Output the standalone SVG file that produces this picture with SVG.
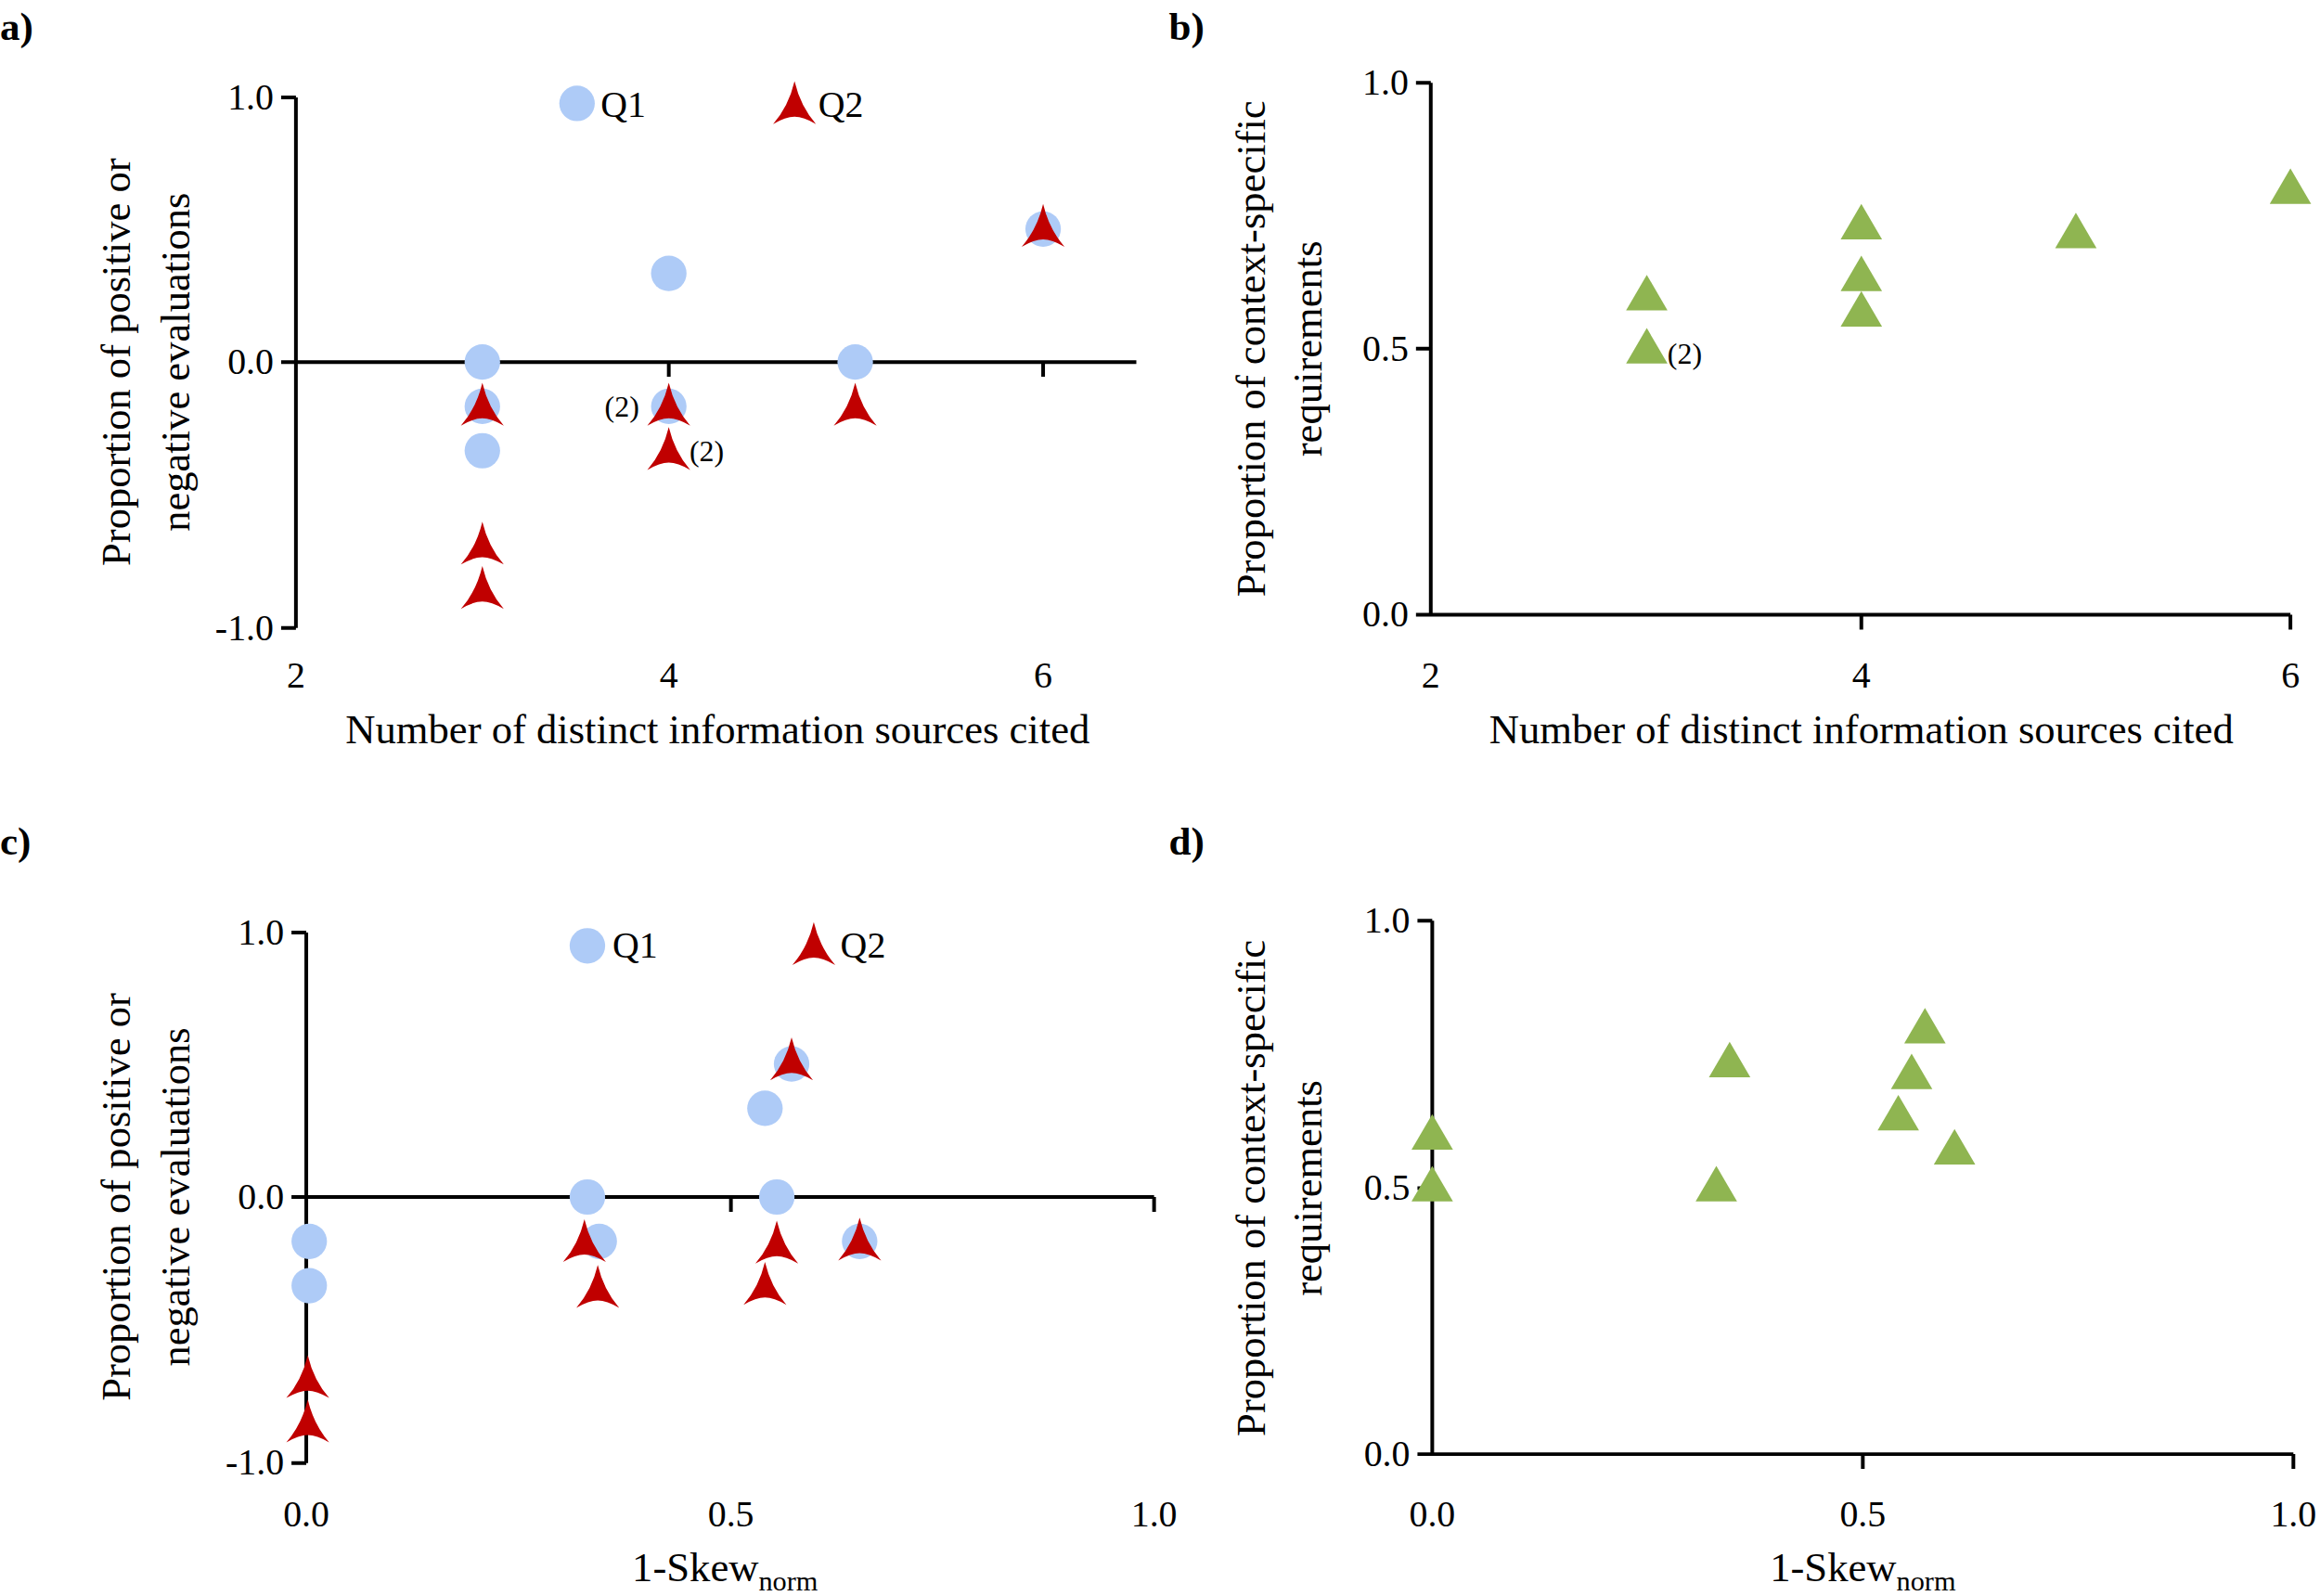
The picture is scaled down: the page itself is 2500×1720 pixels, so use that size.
<svg xmlns="http://www.w3.org/2000/svg" width="2500" height="1720" viewBox="0 0 2500 1720" font-family="'Liberation Serif','Times New Roman','DejaVu Serif',serif">
<defs>
<style>
text{font-family:"Liberation Serif","Times New Roman","DejaVu Serif",serif;fill:#000}
.t{font-size:25px}
.ti{font-size:28px}
.pl{font-size:27px;font-weight:bold}
.ax{stroke:#000;stroke-width:2.5;fill:none}
.q1{fill:#aecbf7}
.q2{fill:#c00000}
.g{fill:#8fb551}
</style>
<path id="rt" d="M0,-17 Q4,0 14.5,12 Q6,7 0,7 Q-6,7 -14.5,12 Q-4,0 0,-17Z"/>
<path id="gt" d="M0,-14 L14,10 L-14,10Z"/>
</defs>
<rect width="2500" height="1720" fill="#fff"/>
<g transform="scale(1.5944,1.5926)">
<g id="panel-a">
<text class="pl" x="0" y="27">a)</text>
<g id="axes-a" class="ax"><path d="M200,66V425M190,66H200M190,245H200M190,425H200M200,245H768M452,245V255M705,245V255"/></g>
<text class="t" x="185" y="74" text-anchor="end">1.0</text>
<text class="t" x="185" y="253" text-anchor="end">0.0</text>
<text class="t" x="185" y="433" text-anchor="end">-1.0</text>
<text class="t" x="200" y="465" text-anchor="middle">2</text>
<text class="t" x="452" y="465" text-anchor="middle">4</text>
<text class="t" x="705" y="465" text-anchor="middle">6</text>
<text class="ti" x="485" y="503" text-anchor="middle">Number of distinct information sources cited</text>
<text class="ti" transform="translate(88,245) rotate(-90)" text-anchor="middle">Proportion of positive or</text>
<text class="ti" transform="translate(128,245) rotate(-90)" text-anchor="middle">negative evaluations</text>
<g id="q1-a" class="q1"><ellipse cx="390" cy="70" rx="12" ry="12"/><ellipse cx="326" cy="245" rx="12" ry="12"/><ellipse cx="326" cy="275" rx="12" ry="12"/><ellipse cx="326" cy="305" rx="12" ry="12"/><ellipse cx="452" cy="185" rx="12" ry="12"/><ellipse cx="452" cy="275" rx="12" ry="12"/><ellipse cx="578" cy="245" rx="12" ry="12"/><ellipse cx="705" cy="155" rx="12" ry="12"/></g>
<g id="q2-a" class="q2"><use href="#rt" x="537" y="72"/><use href="#rt" x="326" y="276"/><use href="#rt" x="326" y="370"/><use href="#rt" x="326" y="400"/><use href="#rt" x="452" y="276"/><use href="#rt" x="452" y="306"/><use href="#rt" x="578" y="276"/><use href="#rt" x="705" y="155"/></g>
<text class="t" x="406" y="79">Q1</text>
<text class="t" x="553" y="79">Q2</text>
<text x="432" y="282" text-anchor="end" style="font-size:20px">(2)</text>
<text x="466" y="312" style="font-size:20px">(2)</text>
</g>
<g id="panel-b">
<text class="pl" x="790" y="27">b)</text>
<g id="axes-b" class="ax"><path d="M967,56V416H1548M957,56H967M957,236H967M957,416H967M1258,416V426M1548,416V426"/></g>
<text class="t" x="952" y="64" text-anchor="end">1.0</text>
<text class="t" x="952" y="244" text-anchor="end">0.5</text>
<text class="t" x="952" y="424" text-anchor="end">0.0</text>
<text class="t" x="967" y="465" text-anchor="middle">2</text>
<text class="t" x="1258" y="465" text-anchor="middle">4</text>
<text class="t" x="1548" y="465" text-anchor="middle">6</text>
<text class="ti" x="1258" y="503" text-anchor="middle">Number of distinct information sources cited</text>
<text class="ti" transform="translate(855,236) rotate(-90)" text-anchor="middle">Proportion of context-specific</text>
<text class="ti" transform="translate(893,236) rotate(-90)" text-anchor="middle">requirements</text>
<g id="pts-b" class="g"><use href="#gt" x="1113" y="200"/><use href="#gt" x="1113" y="236"/><use href="#gt" x="1258" y="152"/><use href="#gt" x="1258" y="187"/><use href="#gt" x="1258" y="211"/><use href="#gt" x="1403" y="158"/><use href="#gt" x="1548" y="128"/></g>
<text x="1127" y="246" style="font-size:20px">(2)</text>
</g>
<g id="panel-c">
<text class="pl" x="0" y="578">c)</text>
<g id="axes-c" class="ax"><path d="M207,631V990M197,631H207M197,810H207M197,990H207M207,810H780M494,810V820M780,810V820"/></g>
<text class="t" x="192" y="639" text-anchor="end">1.0</text>
<text class="t" x="192" y="818" text-anchor="end">0.0</text>
<text class="t" x="192" y="998" text-anchor="end">-1.0</text>
<text class="t" x="207" y="1033" text-anchor="middle">0.0</text>
<text class="t" x="494" y="1033" text-anchor="middle">0.5</text>
<text class="t" x="780" y="1033" text-anchor="middle">1.0</text>
<text class="ti" x="490" y="1070" text-anchor="middle">1-Skew<tspan dy="6" style="font-size:19px">norm</tspan></text>
<text class="ti" transform="translate(88,810) rotate(-90)" text-anchor="middle">Proportion of positive or</text>
<text class="ti" transform="translate(128,810) rotate(-90)" text-anchor="middle">negative evaluations</text>
<g id="q1-c" class="q1"><ellipse cx="397" cy="640" rx="12" ry="12"/><ellipse cx="209" cy="840" rx="12" ry="12"/><ellipse cx="209" cy="870" rx="12" ry="12"/><ellipse cx="397" cy="810" rx="12" ry="12"/><ellipse cx="405" cy="840" rx="12" ry="12"/><ellipse cx="517" cy="750" rx="12" ry="12"/><ellipse cx="535" cy="720" rx="12" ry="12"/><ellipse cx="525" cy="810" rx="12" ry="12"/><ellipse cx="581" cy="840" rx="12" ry="12"/></g>
<g id="q2-c" class="q2"><use href="#rt" x="550" y="641"/><use href="#rt" x="208" y="934"/><use href="#rt" x="208" y="964"/><use href="#rt" x="395" y="842"/><use href="#rt" x="404" y="873"/><use href="#rt" x="525" y="843"/><use href="#rt" x="517" y="871"/><use href="#rt" x="535" y="719"/><use href="#rt" x="581" y="841"/></g>
<text class="t" x="414" y="648">Q1</text>
<text class="t" x="568" y="648">Q2</text>
</g>
<g id="panel-d">
<text class="pl" x="790" y="578">d)</text>
<g id="axes-d" class="ax"><path d="M968,623V984H1550M958,623H968M958,804H968M958,984H968M1259,984V994M1550,984V994"/></g>
<text class="t" x="953" y="631" text-anchor="end">1.0</text>
<text class="t" x="953" y="812" text-anchor="end">0.5</text>
<text class="t" x="953" y="992" text-anchor="end">0.0</text>
<text class="t" x="968" y="1033" text-anchor="middle">0.0</text>
<text class="t" x="1259" y="1033" text-anchor="middle">0.5</text>
<text class="t" x="1550" y="1033" text-anchor="middle">1.0</text>
<text class="ti" x="1259" y="1070" text-anchor="middle">1-Skew<tspan dy="6" style="font-size:19px">norm</tspan></text>
<text class="ti" transform="translate(855,804) rotate(-90)" text-anchor="middle">Proportion of context-specific</text>
<text class="ti" transform="translate(893,804) rotate(-90)" text-anchor="middle">requirements</text>
<g id="pts-d" class="g"><use href="#gt" x="968" y="768"/><use href="#gt" x="968" y="803"/><use href="#gt" x="1160" y="803"/><use href="#gt" x="1169" y="719"/><use href="#gt" x="1283" y="755"/><use href="#gt" x="1292" y="727"/><use href="#gt" x="1301" y="696"/><use href="#gt" x="1321" y="778"/></g>
</g>
</g>
</svg>
